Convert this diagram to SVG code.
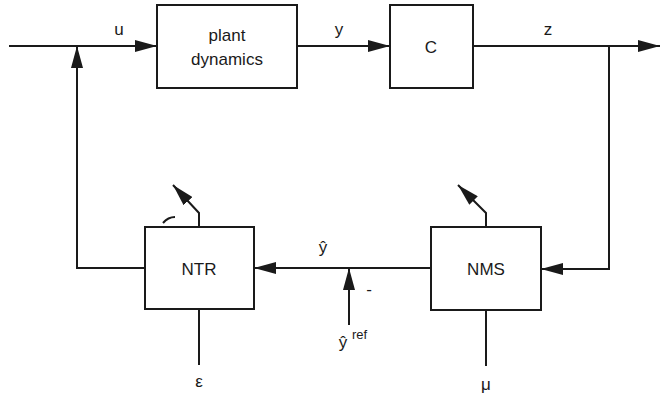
<svg xmlns="http://www.w3.org/2000/svg" width="662" height="396" viewBox="0 0 662 396">
<style>
.box{fill:#fff;stroke:#1a1a1a;stroke-width:2}
.ln{fill:none;stroke:#1a1a1a;stroke-width:2}
.t{font-family:"Liberation Sans",Arial,sans-serif;font-size:17px;fill:#1a1a1a;text-anchor:middle}
.s{font-size:13px;text-anchor:start}
</style>
<defs>
<marker id="ah" markerWidth="22" markerHeight="12" refX="22" refY="6" orient="auto" markerUnits="userSpaceOnUse">
<path d="M0,0 L22,6 L0,12 Z" fill="#1a1a1a"/>
</marker>
</defs>
<rect width="662" height="396" fill="#fff"/>
<g id="connectors">
<line class="ln" x1="9" y1="46" x2="157" y2="46" marker-end="url(#ah)"/>
<line class="ln" x1="297" y1="46" x2="390" y2="46" marker-end="url(#ah)"/>
<line class="ln" x1="473" y1="46" x2="660" y2="46" marker-end="url(#ah)"/>
<polyline class="ln" points="145,268 77,268 77,46" marker-end="url(#ah)"/>
<polyline class="ln" points="609,46 609,269 541,269" marker-end="url(#ah)"/>
<line class="ln" x1="431" y1="268" x2="254" y2="268" marker-end="url(#ah)"/>
<line class="ln" x1="349" y1="325" x2="349" y2="268" marker-end="url(#ah)"/>
<line class="ln" x1="199" y1="309" x2="199" y2="365"/>
<line class="ln" x1="486" y1="310" x2="486" y2="366"/>
<polyline class="ln" points="199,227 199,213 173,185" marker-end="url(#ah)"/>
<polyline class="ln" points="486,227 486,213 458,185" marker-end="url(#ah)"/>
<path class="ln" d="M163,223 Q168,217 175,217" stroke-width="1.3"/>
</g>
<g id="plant">
<rect class="box" x="157" y="5" width="140" height="83"/>
<text class="t" x="227" y="41">plant</text>
<text class="t" x="227" y="65">dynamics</text>
</g>
<g id="C">
<rect class="box" x="390" y="5" width="83" height="83"/>
<text class="t" x="431" y="53">C</text>
</g>
<g id="NTR">
<rect class="box" x="145" y="227" width="109" height="82"/>
<text class="t" x="199" y="275">NTR</text>
</g>
<g id="NMS">
<rect class="box" x="431" y="227" width="110" height="83"/>
<text class="t" x="486" y="275">NMS</text>
</g>
<g id="labels">
<text class="t" x="119" y="35">u</text>
<text class="t" x="339" y="35">y</text>
<text class="t" x="548" y="35">z</text>
<text class="t" x="323" y="253">ŷ</text>
<text class="t" x="369" y="295">-</text>
<text class="t" x="343" y="348">ŷ</text>
<text class="t s" x="352" y="339">ref</text>
<text class="t" x="199" y="387">ε</text>
<text class="t" x="486" y="390">μ</text>
</g>
</svg>
